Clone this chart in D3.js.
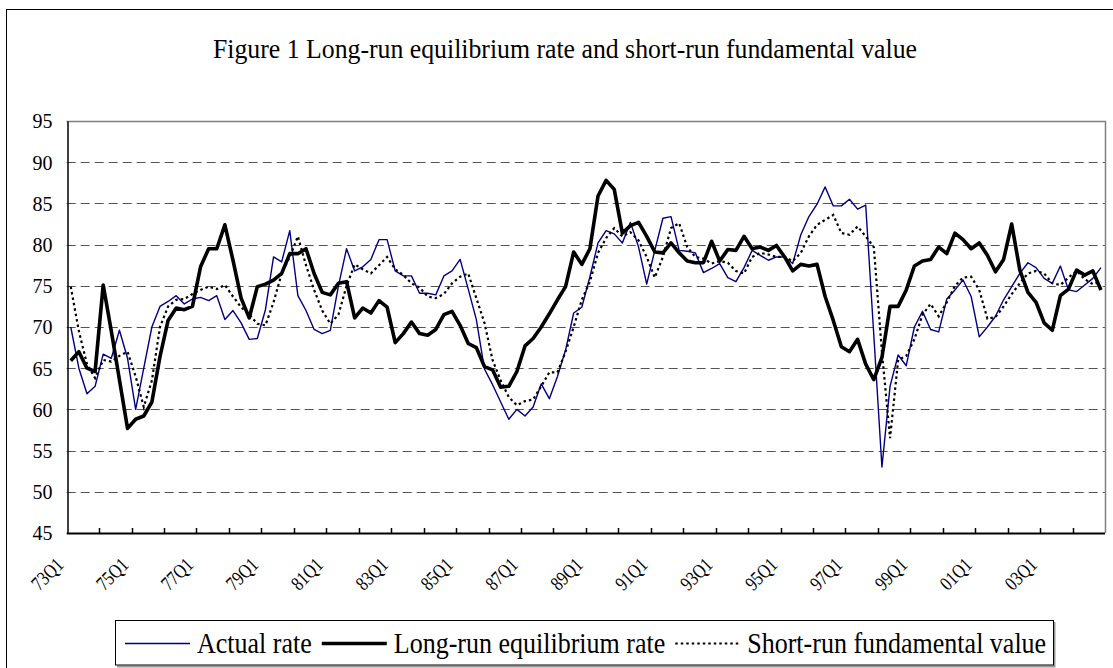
<!DOCTYPE html>
<html><head><meta charset="utf-8">
<script src="https://cdn.jsdelivr.net/npm/d3@7"></script>
<style>body{margin:0;background:#fff}svg{display:block}text{font-family:"Liberation Serif","Times New Roman",serif;fill:#000}</style>
</head><body><svg id="c" width="1113" height="668"></svg>
<script>
const categories = [
 "73Q1","73Q2","73Q3","73Q4","74Q1","74Q2","74Q3","74Q4","75Q1","75Q2","75Q3","75Q4","76Q1","76Q2","76Q3","76Q4",
 "77Q1","77Q2","77Q3","77Q4","78Q1","78Q2","78Q3","78Q4","79Q1","79Q2","79Q3","79Q4","80Q1","80Q2","80Q3","80Q4",
 "81Q1","81Q2","81Q3","81Q4","82Q1","82Q2","82Q3","82Q4","83Q1","83Q2","83Q3","83Q4","84Q1","84Q2","84Q3","84Q4",
 "85Q1","85Q2","85Q3","85Q4","86Q1","86Q2","86Q3","86Q4","87Q1","87Q2","87Q3","87Q4","88Q1","88Q2","88Q3","88Q4",
 "89Q1","89Q2","89Q3","89Q4","90Q1","90Q2","90Q3","90Q4","91Q1","91Q2","91Q3","91Q4","92Q1","92Q2","92Q3","92Q4",
 "93Q1","93Q2","93Q3","93Q4","94Q1","94Q2","94Q3","94Q4","95Q1","95Q2","95Q3","95Q4","96Q1","96Q2","96Q3","96Q4",
 "97Q1","97Q2","97Q3","97Q4","98Q1","98Q2","98Q3","98Q4","99Q1","99Q2","99Q3","99Q4","00Q1","00Q2","00Q3","00Q4",
 "01Q1","01Q2","01Q3","01Q4","02Q1","02Q2","02Q3","02Q4","03Q1","03Q2","03Q3","03Q4","04Q1","04Q2","04Q3","04Q4"];
const tickLabels = ["73Q1","75Q1","77Q1","79Q1","81Q1","83Q1","85Q1","87Q1","89Q1","91Q1","93Q1","95Q1","97Q1","99Q1","01Q1","03Q1"];
const yTicks = [45,50,55,60,65,70,75,80,85,90,95];

const actualRate = [
 70.0,65.0,61.9,62.8,66.7,66.2,69.6,66.2,60.0,65.0,70.0,72.5,73.1,73.8,72.8,73.4,
 73.6,73.2,73.8,70.9,72.0,70.5,68.5,68.6,72.1,78.5,77.9,81.7,73.8,72.0,69.7,69.2,
 69.6,75.0,79.5,76.8,77.3,78.2,80.6,80.6,76.8,76.2,76.2,74.1,74.1,73.9,76.2,76.8,
 78.2,74.6,70.9,64.9,63.0,60.9,58.8,60.0,59.2,60.3,63.1,61.3,64.0,67.2,71.7,72.4,
 76.1,80.2,81.7,81.3,80.2,82.7,79.7,75.2,79.3,83.2,83.4,79.3,79.2,79.0,76.6,77.1,
 77.7,76.0,75.5,77.2,79.3,78.7,78.1,78.5,78.5,77.7,81.2,83.4,84.9,87.0,84.7,84.7,
 85.5,84.3,84.8,69.0,53.0,62.8,66.6,65.3,70.0,71.9,69.7,69.4,73.4,74.5,75.7,73.7,
 68.8,70.0,71.3,73.3,74.9,76.5,77.8,77.2,75.9,75.3,77.4,74.5,74.3,75.1,75.9,77.2];

const longRunRate = [
 65.9,67.0,65.0,64.6,75.1,69.5,63.6,57.7,58.8,59.2,60.9,66.4,70.8,72.3,72.1,72.5,
 77.3,79.5,79.5,82.4,78.1,73.5,71.1,74.9,75.2,75.7,76.5,78.9,78.9,79.5,76.5,74.2,
 73.9,75.3,75.5,71.1,72.3,71.7,73.2,72.4,68.1,69.2,70.6,69.2,69.0,69.7,71.5,71.9,
 70.2,68.0,67.5,65.2,64.8,62.7,62.8,64.6,67.7,68.6,70.0,71.6,73.3,74.9,79.1,77.6,
 79.5,85.9,87.8,86.7,81.4,82.3,82.7,81.0,79.1,79.0,80.2,79.0,78.0,77.8,77.8,80.4,
 78.0,79.4,79.3,81.0,79.5,79.7,79.3,79.9,78.5,76.8,77.6,77.4,77.6,73.7,70.8,67.6,
 67.0,68.5,65.5,63.6,66.3,72.5,72.5,74.5,77.4,78.0,78.2,79.7,78.9,81.4,80.6,79.5,
 80.2,78.7,76.7,78.2,82.5,76.9,74.2,73.0,70.5,69.6,73.8,74.6,76.9,76.3,76.8,74.5];

const shortRunValue = [
 74.9,69.5,65.5,63.8,66.0,65.8,66.5,67.0,64.0,60.3,63.5,70.0,72.5,73.3,73.4,74.0,
 74.5,74.9,74.6,75.1,73.7,72.4,71.5,70.4,70.2,73.0,76.5,78.5,81.0,77.5,74.5,72.0,
 70.4,71.5,75.0,77.6,77.0,76.5,77.5,78.5,77.0,76.3,75.3,74.8,73.7,73.5,74.0,75.3,
 76.1,76.5,73.5,70.5,66.0,63.5,61.5,60.5,61.0,61.2,62.8,64.5,64.5,67.0,70.0,73.3,
 75.5,79.0,80.8,82.0,81.0,81.5,80.5,78.5,76.0,78.5,82.0,82.6,79.7,78.5,78.3,77.7,
 78.0,77.8,76.8,76.5,78.5,79.0,78.8,78.5,78.5,78.0,79.0,81.0,82.4,83.0,83.6,81.4,
 81.2,82.2,81.0,79.7,67.0,56.5,66.0,66.5,68.5,71.5,72.8,71.3,73.0,75.0,76.0,76.1,
 74.5,71.0,71.2,72.5,74.0,75.3,76.5,76.8,76.5,75.3,75.1,76.0,76.8,75.8,75.2,75.5];

const titleText = "Figure 1 Long-run equilibrium rate and short-run fundamental value";
const seriesNames = ["Actual rate","Long-run equilibrium rate","Short-run fundamental value"];

const svg = d3.select("#c");
svg.append("rect").attr("width",1113).attr("height",668).attr("fill","#fff");
svg.append("rect").attr("x",6.5).attr("y",9.5).attr("width",1130).attr("height",700)
  .attr("fill","none").attr("stroke","#000").attr("stroke-width",1);

const L = 66.7, R = 1105, T = 121, B = 533;
const x = d3.scaleBand().domain(categories).range([L, R]).padding(0);
const y = d3.scaleLinear().domain([45, 95]).range([B, T]);
const cx = c => x(c) + x.bandwidth() / 2;

// title
svg.append("text").attr("x", 565).attr("y", 57.5).attr("text-anchor", "middle")
  .attr("font-size", 26.5).attr("textLength", 704).attr("lengthAdjust", "spacingAndGlyphs")
  .text(titleText);

// gridlines
svg.append("g").selectAll("line").data(yTicks.filter(v => v > 45)).join("line")
  .attr("x1", L).attr("x2", R)
  .attr("y1", d => Math.round(y(d)) + 0.5).attr("y2", d => Math.round(y(d)) + 0.5)
  .attr("stroke", "#555").attr("stroke-width", 1).attr("stroke-dasharray", "9,5");

// plot area border (top/right)
svg.append("path").attr("d", `M${L},${Math.round(T)+0.5}H${Math.round(R)+0.5}V${B}`)
  .attr("fill", "none").attr("stroke", "#808080").attr("stroke-width", 1.5);

// y axis
const yAxis = d3.axisLeft(y).tickValues(yTicks).tickSize(0).tickPadding(0).tickFormat(d3.format("d"));
const gy = svg.append("g").attr("transform", `translate(${Math.round(L)+0.5},0)`).call(yAxis);
gy.select(".domain").attr("stroke", "#000").attr("stroke-width", 1.5);
gy.selectAll("text").attr("x", -15).attr("dy", "0.34em").attr("font-size", 20)
  .attr("font-family", "Liberation Serif, Times New Roman, serif").attr("fill", "#000");

// x axis line + ticks
const tickCats = categories.filter((c, i) => i % 4 === 0 && i > 0);
const gx = svg.append("g");
gx.append("line").attr("x1", L).attr("x2", R).attr("y1", Math.round(B)+0.5).attr("y2", Math.round(B)+0.5)
  .attr("stroke", "#000").attr("stroke-width", 2);
gx.selectAll("line.tk").data(tickCats).join("line").attr("class", "tk")
  .attr("x1", d => Math.round(x(d)) + 0.5).attr("x2", d => Math.round(x(d)) + 0.5)
  .attr("y1", B - 5).attr("y2", B).attr("stroke", "#000").attr("stroke-width", 1.5);
gx.selectAll("text").data(tickLabels).join("text")
  .attr("transform", d => `translate(${cx(d) - 6},${B + 33}) rotate(-45)`)
  .attr("text-anchor", "end").attr("font-size", 20)
  .attr("textLength", 36).attr("lengthAdjust", "spacingAndGlyphs").text(d => d);

// series
const line = d3.line().x((d, i) => cx(categories[i])).y(d => y(d));
const plot = svg.append("g");
plot.append("path").datum(actualRate).attr("d", line).attr("fill", "none")
  .attr("stroke", "#000080").attr("stroke-width", 1.4).attr("stroke-linejoin", "round");
plot.append("path").datum(longRunRate).attr("d", line).attr("fill", "none")
  .attr("stroke", "#000").attr("stroke-width", 3.6).attr("stroke-linejoin", "round");
plot.append("path").datum(shortRunValue).attr("d", line).attr("fill", "none")
  .attr("stroke", "#000").attr("stroke-width", 2.2).attr("stroke-dasharray", "2.5,3");

// legend
const lg = svg.append("g");
lg.append("path").attr("d", "M117,666.5H1054.5V622").attr("fill", "none").attr("stroke", "#999").attr("stroke-width", 2);
lg.append("rect").attr("x", 115.5).attr("y", 620.5).attr("width", 938).attr("height", 44.5)
  .attr("fill", "#fff").attr("stroke", "#000").attr("stroke-width", 1);
const styles = [
  {stroke: "#000080", w: 1.4, dash: null},
  {stroke: "#000", w: 3.6, dash: null},
  {stroke: "#000", w: 2.2, dash: "2.5,3"}
];
let cur = 125;
seriesNames.forEach((name, k) => {
  const s = styles[k];
  lg.append("line").attr("x1", cur).attr("x2", cur + 65).attr("y1", 643.5).attr("y2", 643.5)
    .attr("stroke", s.stroke).attr("stroke-width", s.w).attr("stroke-dasharray", s.dash);
  const t = lg.append("text").attr("x", cur + 72).attr("y", 653).attr("font-size", 28.5).text(name);
  const w = t.node().getComputedTextLength() * 26 / 28.5;
  t.attr("textLength", w).attr("lengthAdjust", "spacingAndGlyphs");
  cur = cur + 72 + w + 10;
});
</script></body></html>
